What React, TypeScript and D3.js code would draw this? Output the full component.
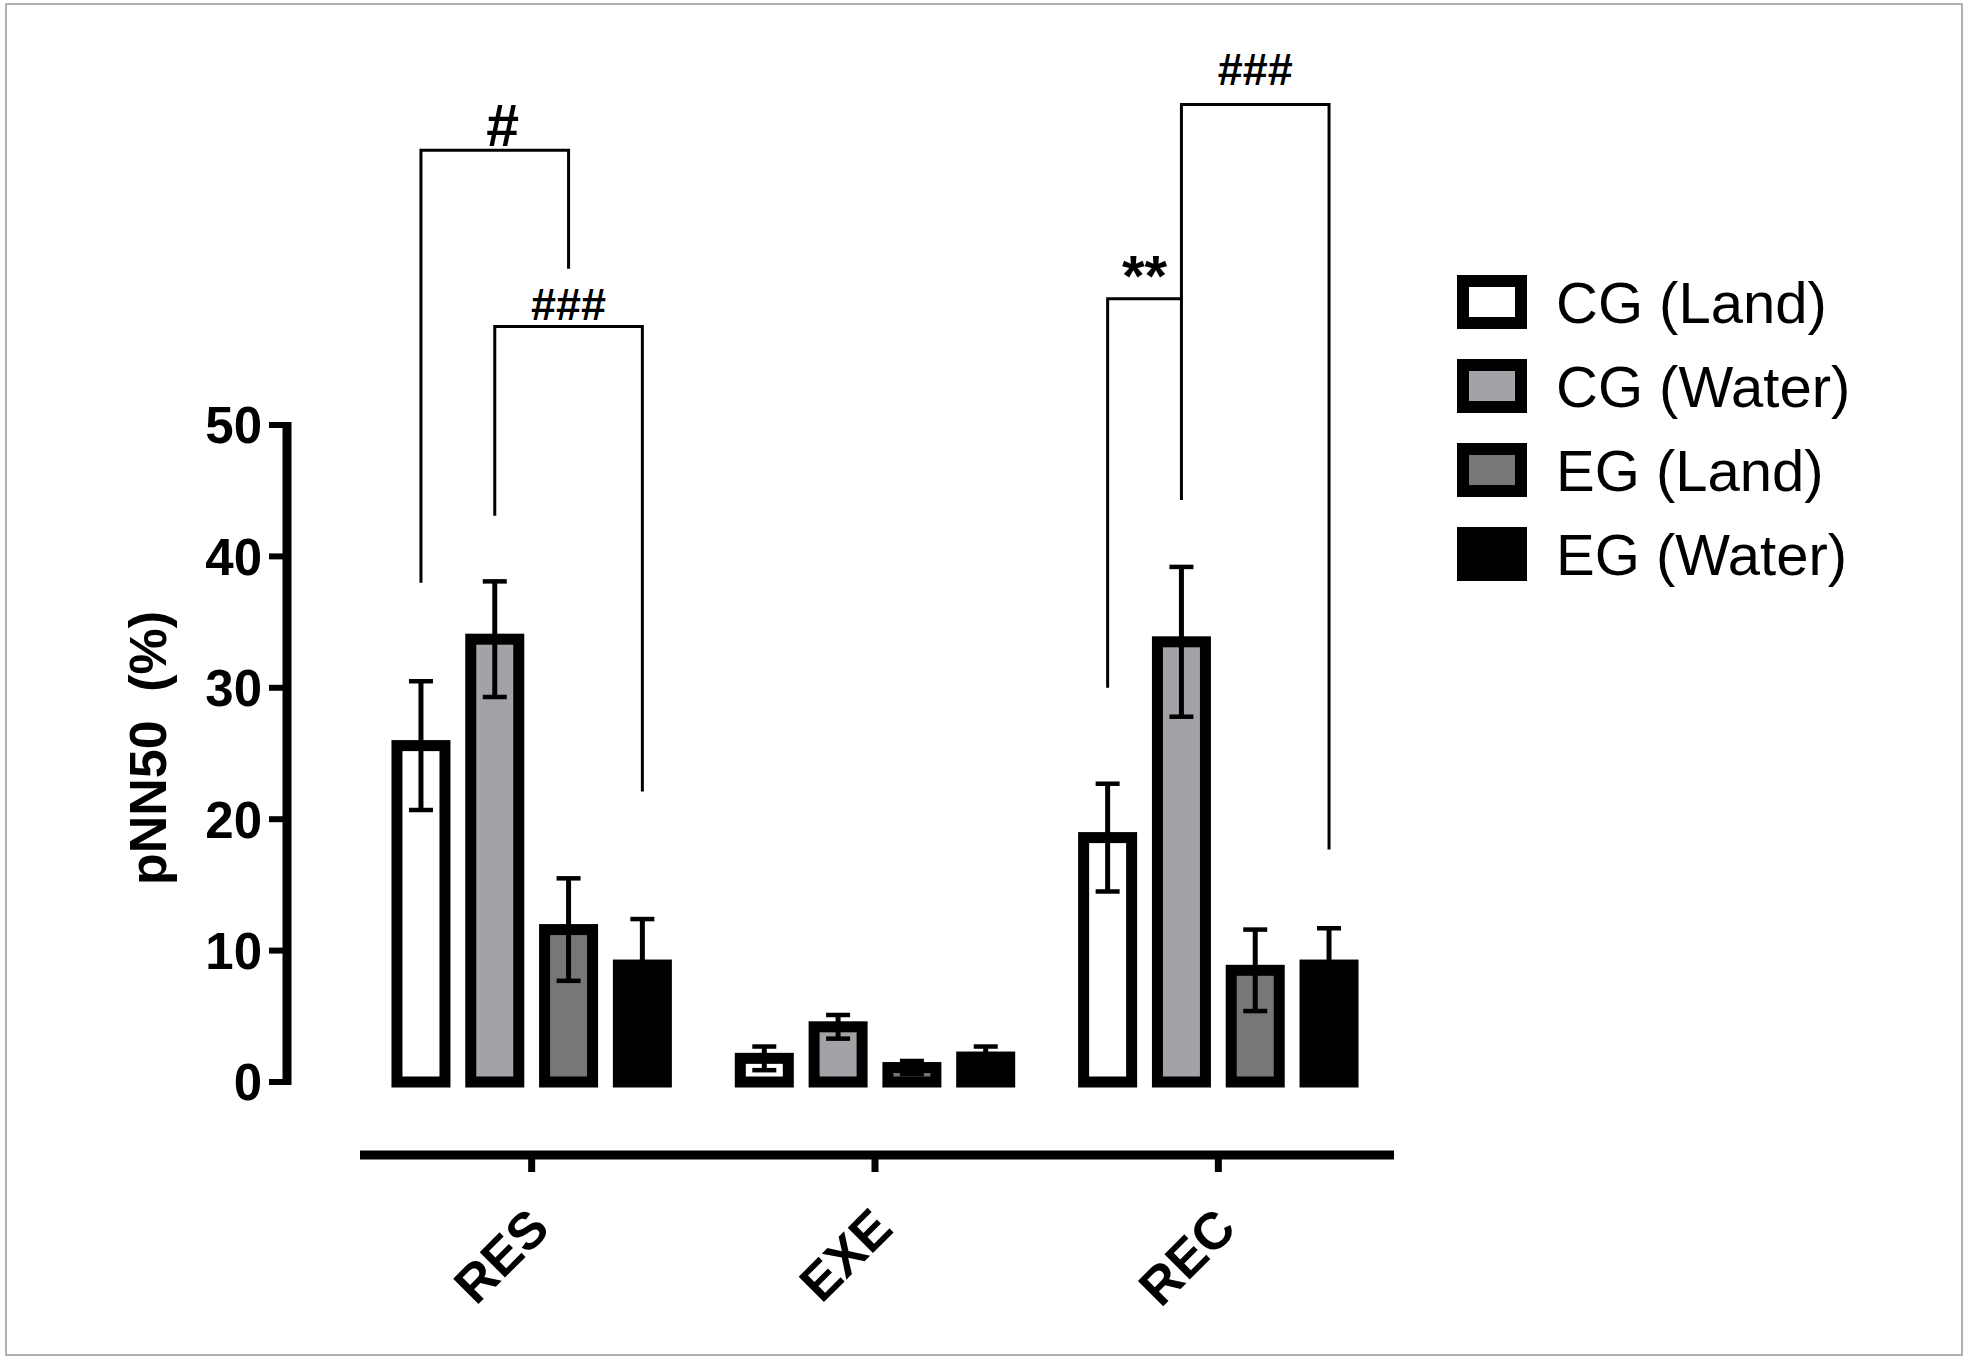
import { useEffect, useRef } from "react";
import * as d3 from "d3";

// phases and groups
const phases = ["RES", "EXE", "REC"];
const groupNames = ["CG (Land)", "CG (Water)", "EG (Land)", "EG (Water)"];
const groupColors = ["#ffffff", "#a3a2a7", "#777777", "#000000"];

// pNN50 (%) mean per phase
const cgLand = [25.6, 1.8, 18.6];
const cgWater = [33.7, 4.2, 33.5];
const egLand = [11.6, 1.1, 8.5];
const egWater = [8.9, 1.9, 8.9];

// SEM per phase
const cgLandSem = [4.9, 0.9, 4.1];
const cgWaterSem = [4.4, 0.9, 5.7];
const egLandSem = [3.9, 0.5, 3.1];
const egWaterSem = [3.5, 0.8, 2.8];

const yTicks = [0, 10, 20, 30, 40, 50];

// significance brackets (values in % units)
const brackets = [
  { phase: "RES", from: 0, to: 2, top: 70.9, fromEnd: 38.0, toEnd: 61.9, label: "#", labelAt: 71.2 },
  { phase: "RES", from: 1, to: 3, top: 57.5, fromEnd: 43.1, toEnd: 22.1, label: "###", labelAt: 58.0 },
  { phase: "REC", from: 0, to: 1, top: 59.6, fromEnd: 30.0, toEnd: 44.3, label: "**", labelAt: 59.8 },
  { phase: "REC", from: 1, to: 3, top: 74.4, fromEnd: 59.6, toEnd: 17.7, label: "###", labelAt: 75.9 },
];

const App = () => {
  const svgRef = useRef<SVGSVGElement>(null);

  useEffect(() => {
    if (!svgRef.current) return;
    document.body.style.margin = "0";

    const svg = d3.select(svgRef.current);
    svg.selectAll("*").remove();

    const W = 1968;
    const H = 1359;
    const font = "'Liberation Sans', Arial, sans-serif";

    svg.attr("width", W).attr("height", H).style("display", "block").style("background", "#fff");

    // outer frame
    svg.append("rect")
      .attr("x", 6).attr("y", 4)
      .attr("width", W - 12).attr("height", H - 8)
      .attr("fill", "none").attr("stroke", "#b0b0b0").attr("stroke-width", 2);

    const means = [cgLand, cgWater, egLand, egWater];
    const sems = [cgLandSem, cgWaterSem, egLandSem, egWaterSem];

    const y = d3.scaleLinear().domain([0, 50]).range([1082, 425]);
    const x0 = d3.scaleBand<string>().domain(phases).range([360, 1390]).padding(0);
    const x1 = d3.scaleBand<number>().domain(d3.range(groupNames.length)).range([-147.6, 147.6]).padding(0);
    const barW = 48;
    const cx = (p: string, i: number) => (x0(p) ?? 0) + x0.bandwidth() / 2 + (x1(i) ?? 0) + x1.bandwidth() / 2;

    // y axis
    const yAxisX = 287;
    svg.append("line")
      .attr("x1", yAxisX).attr("x2", yAxisX)
      .attr("y1", y(50) - 3).attr("y2", y(0) + 3)
      .attr("stroke", "#000").attr("stroke-width", 9);

    const yt = svg.append("g").selectAll("g").data(yTicks).enter().append("g");
    yt.append("line")
      .attr("x1", yAxisX - 18).attr("x2", yAxisX)
      .attr("y1", (d) => y(d)).attr("y2", (d) => y(d))
      .attr("stroke", "#000").attr("stroke-width", 6);
    yt.append("text")
      .attr("x", 262).attr("y", (d) => y(d))
      .attr("dy", "0.36em")
      .attr("text-anchor", "end")
      .attr("font-family", font).attr("font-weight", "bold").attr("font-size", 51)
      .text((d) => d);

    svg.append("text")
      .attr("transform", `translate(166, 748) rotate(-90)`)
      .attr("text-anchor", "middle")
      .attr("font-family", font).attr("font-weight", "bold").attr("font-size", 52)
      .attr("word-spacing", 14)
      .text("pNN50 (%)");

    // x axis
    const xAxisY = 1155;
    svg.append("line")
      .attr("x1", 360).attr("x2", 1394)
      .attr("y1", xAxisY).attr("y2", xAxisY)
      .attr("stroke", "#000").attr("stroke-width", 9);

    const xt = svg.append("g").selectAll("g").data(phases).enter().append("g");
    xt.append("line")
      .attr("x1", (d) => (x0(d) ?? 0) + x0.bandwidth() / 2)
      .attr("x2", (d) => (x0(d) ?? 0) + x0.bandwidth() / 2)
      .attr("y1", xAxisY).attr("y2", xAxisY + 17)
      .attr("stroke", "#000").attr("stroke-width", 7);
    xt.append("text")
      .attr("transform", (d) => `translate(${(x0(d) ?? 0) + x0.bandwidth() / 2 + 20}, ${xAxisY + 76}) rotate(-45)`)
      .attr("text-anchor", "end")
      .attr("font-family", font).attr("font-weight", "bold").attr("font-size", 52)
      .text((d) => d);

    // bars
    const bars = svg.append("g");
    phases.forEach((p, pi) => {
      groupNames.forEach((_, gi) => {
        const v = means[gi][pi];
        bars.append("rect")
          .attr("x", cx(p, gi) - barW / 2)
          .attr("y", y(v))
          .attr("width", barW)
          .attr("height", y(0) - y(v))
          .attr("fill", groupColors[gi])
          .attr("stroke", "#000")
          .attr("stroke-width", 11);
      });
    });

    // error bars
    const errs = svg.append("g").attr("stroke", "#000");
    phases.forEach((p, pi) => {
      groupNames.forEach((_, gi) => {
        const v = means[gi][pi];
        const s = sems[gi][pi];
        const c = cx(p, gi);
        errs.append("line")
          .attr("x1", c).attr("x2", c)
          .attr("y1", y(v + s)).attr("y2", y(Math.max(0, v - s)))
          .attr("stroke-width", 5);
        [v + s, Math.max(0, v - s)].forEach((e) => {
          errs.append("line")
            .attr("x1", c - 12).attr("x2", c + 12)
            .attr("y1", y(e)).attr("y2", y(e))
            .attr("stroke-width", 4.5);
        });
      });
    });

    // significance brackets
    const sig = svg.append("g");
    brackets.forEach((b) => {
      const xa = cx(b.phase, b.from);
      const xb = cx(b.phase, b.to);
      sig.append("path")
        .attr("d", `M${xa},${y(b.fromEnd)}V${y(b.top)}H${xb}V${y(b.toEnd)}`)
        .attr("fill", "none").attr("stroke", "#000").attr("stroke-width", 3);
      const size = b.label === "#" ? 59 : b.label === "**" ? 58 : 45;
      sig.append("text")
        .attr("x", (xa + xb) / 2 + (b.label === "#" ? 8 : 0))
        .attr("y", y(b.labelAt))
        .attr("text-anchor", "middle")
        .attr("font-family", font).attr("font-weight", "bold").attr("font-size", size)
        .text(b.label);
    });

    // legend
    const legend = svg.append("g");
    groupNames.forEach((name, i) => {
      const ly = 302 + i * 84;
      legend.append("rect")
        .attr("x", 1463).attr("y", ly - 21)
        .attr("width", 58).attr("height", 42)
        .attr("fill", groupColors[i])
        .attr("stroke", "#000").attr("stroke-width", 12);
      legend.append("text")
        .attr("x", 1556).attr("y", ly)
        .attr("dy", "0.36em")
        .attr("font-family", font).attr("font-size", 58)
        .text(name);
    });
  }, []);

  return <svg ref={svgRef} />;
};

export default App;
